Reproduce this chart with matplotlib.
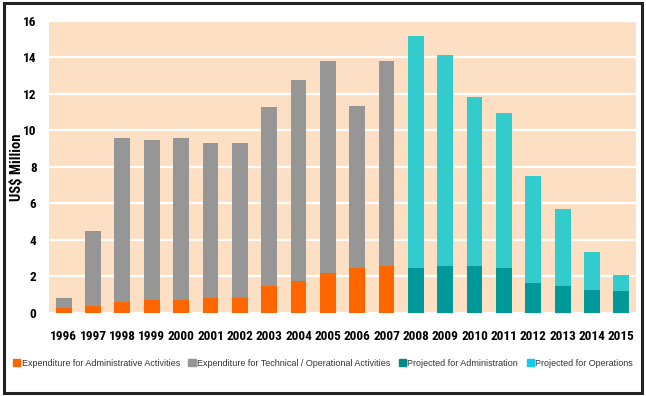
import matplotlib.pyplot as plt
import matplotlib.patches as mpatches
import numpy as np

years = [str(y) for y in range(1996, 2016)]
# actual expenditure 1996-2007 (totals and admin part), US$ million
actual_years = years[:12]
actual_admin = [0.29, 0.4, 0.6, 0.72, 0.72, 0.82, 0.82, 1.47, 1.74, 2.2, 2.47, 2.58]
actual_total = [0.83, 4.5, 9.6, 9.48, 9.6, 9.28, 9.28, 11.27, 12.73, 13.78, 11.33, 13.78]
# projections 2008-2015
proj_years = years[12:]
proj_admin = [2.45, 2.58, 2.58, 2.45, 1.65, 1.45, 1.27, 1.2]
proj_total = [15.14, 14.12, 11.84, 10.93, 7.48, 5.68, 3.34, 2.09]

actual_ops = np.array(actual_total) - np.array(actual_admin)
proj_ops = np.array(proj_total) - np.array(proj_admin)

plt.rcParams['font.family'] = ['Roboto Condensed', 'DejaVu Sans']

fig = plt.figure(figsize=(6.46, 3.96), dpi=100)
ax = fig.add_axes([0.0759, 0.2096, 0.9086, 0.7384])
ax.set_facecolor('#FDE0C4')

x = np.arange(len(years))
xa = x[:12]
xp = x[12:]
w = 0.54
ax.bar(xa, actual_admin, w, color='#FF6600', zorder=3)
ax.bar(xa, actual_ops, w, bottom=actual_admin, color='#969696', zorder=3)
ax.bar(xp, proj_admin, w, color='#009999', zorder=3)
ax.bar(xp, proj_ops, w, bottom=proj_admin, color='#33CCCC', zorder=3)

ax.set_xlim(-0.5, len(years) - 0.5)
ax.set_ylim(0, 16)
ax.set_yticks(range(0, 17, 2))
ax.set_xticks(x)
ax.set_xticklabels(years)
ax.grid(axis='y', color='white', linewidth=1.6, zorder=1)
ax.tick_params(length=0, labelsize=9.5)
ax.tick_params(axis='x', pad=12)
ax.tick_params(axis='y', pad=9)
for lab in ax.get_xticklabels() + ax.get_yticklabels():
    lab.set_fontweight('bold')
for s in ax.spines.values():
    s.set_visible(False)
ax.set_ylabel("US$ Million", fontsize=10.5, fontweight='bold')
ax.yaxis.set_label_coords(-0.042, 0.5)

handles = [
    mpatches.Patch(color='#FF6600', label='Expenditure for Administrative Activities'),
    mpatches.Patch(color='#969696', label='Expenditure for Technical / Operational Activities'),
    mpatches.Patch(color='#008888', label='Projected for Administration'),
    mpatches.Patch(color='#11CCEE', label='Projected for Operations'),
]
fig.legend(handles=handles, loc='center', bbox_to_anchor=(0.5, 0.083), ncol=4,
           frameon=False, handlelength=0.8, handleheight=0.8, handletextpad=0.15,
           columnspacing=0.95, prop={'family': ['Liberation Sans', 'DejaVu Sans'], 'size': 6.5},
           labelcolor='#333333')

# outer frame
fig.patches.append(mpatches.FancyBboxPatch((0.006, 0.008), 0.988, 0.984,
                                           boxstyle='square,pad=0', transform=fig.transFigure,
                                           fill=False, edgecolor='#222222', linewidth=2.2))

fig.savefig('out.png', dpi=100)
